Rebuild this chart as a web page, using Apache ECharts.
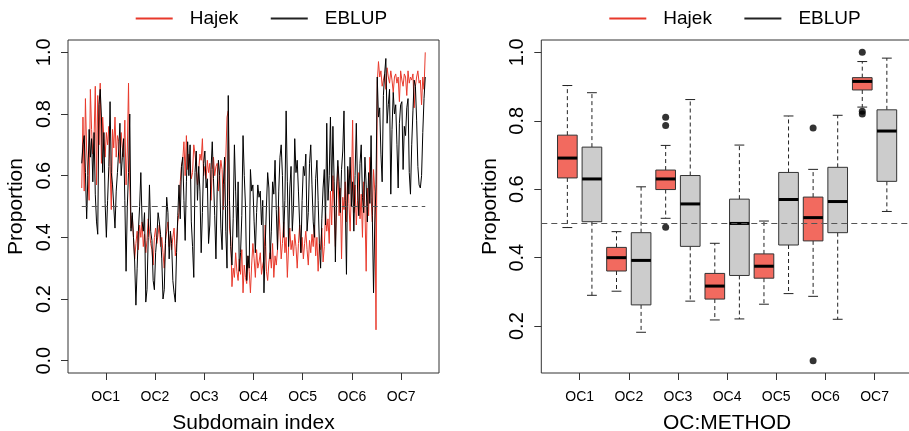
<!DOCTYPE html>
<html>
<head>
<meta charset="utf-8">
<title>Hajek vs EBLUP</title>
<script src="https://cdn.jsdelivr.net/npm/echarts@6/dist/echarts.min.js"></script>
<style>
  html, body { margin: 0; padding: 0; background: #fff; }
  #chart { width: 909px; height: 431px; }
</style>
</head>
<body>
<div id="chart"></div>
<script>
// group labels (7 occupational classes, 40 subdomains each)
const ocLabels = ['OC1', 'OC2', 'OC3', 'OC4', 'OC5', 'OC6', 'OC7'];
const perGroup = 40;

// left panel: estimate per subdomain
const hajek = [
  0.56,0.79,0.55,0.85,0.68,0.60,0.52,0.88,0.75,0.67,0.72,0.89,0.57,0.86,0.70,0.90,0.64,0.79,0.72,0.66,
  0.74,0.70,0.76,0.63,0.49,0.75,0.69,0.79,0.66,0.73,0.71,0.64,0.74,0.69,0.66,0.78,0.57,0.68,0.90,0.57,
  0.43,0.47,0.40,0.33,0.38,0.42,0.36,0.44,0.40,0.45,0.37,0.41,0.35,0.39,0.46,0.42,0.38,0.36,0.31,0.40,
  0.43,0.38,0.41,0.44,0.37,0.40,0.35,0.30,0.39,0.42,0.45,0.37,0.41,0.36,0.40,0.43,0.34,0.38,0.45,0.48,
  0.58,0.63,0.65,0.71,0.60,0.73,0.62,0.67,0.64,0.59,0.61,0.70,0.67,0.63,0.57,0.62,0.67,0.65,0.72,0.60,
  0.63,0.59,0.65,0.61,0.64,0.52,0.62,0.66,0.60,0.63,0.64,0.55,0.60,0.65,0.62,0.49,0.58,0.66,0.79,0.81,
  0.43,0.40,0.24,0.30,0.27,0.35,0.29,0.26,0.33,0.28,0.36,0.22,0.31,0.27,0.25,0.34,0.29,0.22,0.31,0.38,
  0.33,0.27,0.36,0.30,0.32,0.35,0.28,0.31,0.33,0.44,0.29,0.26,0.32,0.35,0.30,0.38,0.27,0.34,0.31,0.36,
  0.50,0.42,0.33,0.38,0.45,0.35,0.40,0.27,0.37,0.43,0.36,0.39,0.34,0.41,0.37,0.30,0.38,0.44,0.35,0.40,
  0.33,0.38,0.42,0.36,0.31,0.39,0.35,0.41,0.37,0.44,0.34,0.40,0.29,0.38,0.36,0.43,0.32,0.37,0.48,0.42,
  0.46,0.38,0.55,0.44,0.60,0.50,0.37,0.52,0.63,0.47,0.56,0.33,0.53,0.49,0.58,0.45,0.62,0.51,0.42,0.55,
  0.78,0.48,0.57,0.44,0.52,0.61,0.46,0.54,0.40,0.58,0.50,0.29,0.56,0.47,0.66,0.53,0.45,0.62,0.55,0.10,
  0.90,0.97,0.92,0.94,0.89,0.91,0.93,0.88,0.95,0.92,0.90,0.94,0.91,0.87,0.92,0.93,0.90,0.92,0.84,0.94,
  0.91,0.89,0.93,0.92,0.86,0.94,0.90,0.92,0.91,0.93,0.82,0.89,0.92,0.94,0.90,0.91,0.83,0.92,0.88,1.00
];
const eblup = [
  0.64,0.70,0.73,0.61,0.46,0.60,0.75,0.66,0.72,0.58,0.74,0.54,0.45,0.41,0.83,0.88,0.79,0.61,0.74,0.51,
  0.40,0.52,0.63,0.84,0.61,0.57,0.50,0.43,0.55,0.61,0.68,0.77,0.60,0.66,0.72,0.52,0.29,0.50,0.61,0.80,
  0.42,0.48,0.40,0.32,0.18,0.30,0.42,0.50,0.61,0.45,0.42,0.48,0.19,0.23,0.40,0.57,0.42,0.39,0.26,0.23,
  0.35,0.40,0.48,0.45,0.41,0.33,0.20,0.23,0.38,0.53,0.48,0.33,0.42,0.38,0.26,0.22,0.19,0.35,0.47,0.57,
  0.46,0.63,0.66,0.52,0.39,0.58,0.71,0.60,0.70,0.45,0.37,0.27,0.61,0.68,0.52,0.63,0.55,0.35,0.48,0.64,
  0.68,0.56,0.59,0.38,0.44,0.62,0.71,0.59,0.47,0.33,0.55,0.65,0.60,0.43,0.36,0.57,0.66,0.42,0.30,0.86,
  0.52,0.37,0.31,0.46,0.70,0.55,0.40,0.58,0.29,0.35,0.47,0.73,0.60,0.50,0.26,0.34,0.30,0.62,0.55,0.57,
  0.45,0.35,0.48,0.57,0.53,0.55,0.44,0.52,0.22,0.37,0.50,0.61,0.56,0.33,0.42,0.58,0.54,0.65,0.49,0.36,
  0.55,0.66,0.70,0.60,0.40,0.52,0.81,0.58,0.37,0.56,0.63,0.42,0.50,0.72,0.61,0.65,0.55,0.44,0.35,0.52,
  0.63,0.60,0.67,0.42,0.48,0.64,0.70,0.57,0.45,0.40,0.59,0.65,0.52,0.38,0.30,0.46,0.56,0.62,0.44,0.77,
  0.52,0.60,0.79,0.55,0.76,0.58,0.32,0.56,0.65,0.58,0.48,0.62,0.68,0.81,0.52,0.28,0.63,0.54,0.66,0.50,
  0.58,0.42,0.60,0.77,0.56,0.47,0.64,0.70,0.53,0.48,0.66,0.57,0.45,0.61,0.51,0.73,0.47,0.22,0.44,0.57,
  0.92,0.79,0.82,0.67,0.58,0.86,0.93,0.98,0.77,0.83,0.88,0.54,0.75,0.87,0.80,0.83,0.70,0.56,0.77,0.83,
  0.84,0.62,0.76,0.73,0.82,0.85,0.61,0.54,0.70,0.81,0.91,0.89,0.78,0.63,0.57,0.56,0.60,0.74,0.85,0.92
];

// right panel: [lower whisker, Q1, median, Q3, upper whisker] per OC
const hajekBox = [
  [0.488, 0.633, 0.691, 0.758, 0.903],
  [0.302, 0.361, 0.400, 0.430, 0.476],
  [0.515, 0.599, 0.630, 0.656, 0.728],
  [0.218, 0.279, 0.317, 0.354, 0.442],
  [0.264, 0.340, 0.375, 0.411, 0.507],
  [0.287, 0.449, 0.517, 0.577, 0.658],
  [0.840, 0.890, 0.915, 0.926, 0.973]
];
const eblupBox = [
  [0.290, 0.505, 0.630, 0.723, 0.882],
  [0.182, 0.262, 0.392, 0.473, 0.607],
  [0.273, 0.433, 0.557, 0.640, 0.862],
  [0.221, 0.348, 0.500, 0.571, 0.729],
  [0.295, 0.437, 0.570, 0.649, 0.814],
  [0.220, 0.473, 0.564, 0.664, 0.816],
  [0.535, 0.623, 0.770, 0.832, 0.983]
];
// outliers: [OC number, value]
const hajekOutliers = [[3, 0.810], [3, 0.786], [3, 0.489], [6, 0.779], [6, 0.099], [7, 1.000], [7, 0.828], [7, 0.820]];

const RED = '#E8392B';
const BOX_RED = '#F26A5F';
const BOX_GREY = '#CCCCCC';
const FONT = '"Liberation Sans", Arial, Helvetica, sans-serif';

const n = hajek.length;
const groupCenters = ocLabels.map((_, i) => i * perGroup + (perGroup + 1) / 2);
const xPad = (n - 1) * 0.04;

const boxCenters = ocLabels.map((_, i) => 2 * i + 1.5);

function renderBox(params, api) {
  const x = api.value(0);
  const lo = api.value(1), q1 = api.value(2), med = api.value(3), q3 = api.value(4), hi = api.value(5);
  const p = (dx, v) => api.coord([x + dx, v]);
  const seg = (a, b) => ({ x1: a[0], y1: a[1], x2: b[0], y2: b[1] });
  const dash = { stroke: '#222', lineWidth: 1, lineDash: [4, 3] };
  const solid = { stroke: '#222', lineWidth: 1 };
  const tl = p(-0.4, q3), br = p(0.4, q1);
  return {
    type: 'group',
    children: [
      { type: 'line', shape: seg(p(0, q3), p(0, hi)), style: dash },
      { type: 'line', shape: seg(p(0, q1), p(0, lo)), style: dash },
      { type: 'line', shape: seg(p(-0.2, hi), p(0.2, hi)), style: solid },
      { type: 'line', shape: seg(p(-0.2, lo), p(0.2, lo)), style: solid },
      { type: 'rect', shape: { x: tl[0], y: tl[1], width: br[0] - tl[0], height: br[1] - tl[1] },
        style: { fill: api.visual('color'), stroke: '#333', lineWidth: 1 } },
      { type: 'line', shape: seg(p(-0.4, med), p(0.4, med)), style: { stroke: '#000', lineWidth: 3 } }
    ]
  };
}

const tickStyle = { show: true, inside: false, length: 7, lineStyle: { color: '#333', width: 1 } };
const yTicks = [0, 0.2, 0.4, 0.6, 0.8, 1.0];
const yTicksRight = [0.2, 0.4, 0.6, 0.8, 1.0];

function yAxis(gridIndex, min, max, ticks) {
  return {
    type: 'value', gridIndex, min, max,
    name: 'Proportion', nameLocation: 'middle', nameGap: 41,
    nameTextStyle: { fontSize: 21, color: '#000', fontFamily: FONT },
    axisLine: { show: false, onZero: false },
    splitLine: { show: false },
    axisTick: Object.assign({ customValues: ticks }, tickStyle),
    axisLabel: { customValues: ticks, rotate: 90, fontSize: 20, color: '#000', margin: 14,
      fontFamily: FONT, formatter: v => v.toFixed(1) }
  };
}

function xAxis(gridIndex, min, max, ticks, title) {
  return {
    type: 'value', gridIndex, min, max,
    name: title, nameLocation: 'middle', nameGap: 40,
    nameTextStyle: { fontSize: 21, color: '#000', fontFamily: FONT },
    axisLine: { show: false, onZero: false },
    splitLine: { show: false },
    axisTick: Object.assign({ customValues: ticks }, tickStyle),
    axisLabel: { customValues: ticks, fontSize: 14, color: '#000', margin: 17, fontFamily: FONT,
      formatter: v => ocLabels[ticks.findIndex(t => Math.abs(t - v) < 1e-6)] }
  };
}

function legend(left) {
  return {
    left, top: 4, orient: 'horizontal', icon: 'rect', itemWidth: 37, itemHeight: 2, itemGap: 32.5,
    selectedMode: false,
    textStyle: { fontSize: 19, color: '#000', fontFamily: FONT, padding: [0, 0, 0, 12] },
    data: [
      { name: 'Hajek', itemStyle: { color: RED } },
      { name: 'EBLUP', itemStyle: { color: '#222' } }
    ]
  };
}

const refLine = {
  silent: true, symbol: 'none', label: { show: false },
  lineStyle: { color: '#555', type: [6, 4], width: 1.2 }
};

const chart = echarts.init(document.getElementById('chart'), null, { renderer: 'canvas' });
chart.setOption({
  animation: false,
  textStyle: { fontFamily: FONT },
  legend: [legend(130.7), legend(604.3)],
  grid: [
    { left: 68, top: 40, width: 371, height: 333, show: true, borderColor: '#333', borderWidth: 1,
      outerBoundsMode: 'none' },
    { left: 541.3, top: 40, width: 371.6, height: 333, show: true, borderColor: '#333', borderWidth: 1,
      outerBoundsMode: 'none' }
  ],
  xAxis: [
    xAxis(0, 1 - xPad, n + xPad, groupCenters, 'Subdomain index'),
    xAxis(1, 0.5 - 0.56, 14.5 + 0.56, boxCenters, 'OC:METHOD')
  ],
  yAxis: [
    yAxis(0, -0.04, 1.04, yTicks),
    yAxis(1, 0.099 - 0.036, 1.0 + 0.036, yTicksRight)
  ],
  series: [
    {
      name: 'Hajek', type: 'line', xAxisIndex: 0, yAxisIndex: 0, showSymbol: false,
      lineStyle: { color: RED, width: 1 }, itemStyle: { color: RED },
      data: hajek.map((v, i) => [i + 1, v]),
      markLine: Object.assign({ data: [[{ coord: [1, 0.5] }, { coord: [n, 0.5] }]] }, refLine)
    },
    {
      name: 'EBLUP', type: 'line', xAxisIndex: 0, yAxisIndex: 0, showSymbol: false,
      lineStyle: { color: '#000', width: 1 }, itemStyle: { color: '#000' },
      data: eblup.map((v, i) => [i + 1, v])
    },
    {
      name: 'Hajek', type: 'custom', xAxisIndex: 1, yAxisIndex: 1,
      itemStyle: { color: BOX_RED }, renderItem: renderBox,
      encode: { x: 0, y: [1, 2, 3, 4, 5] },
      data: hajekBox.map((s, i) => [2 * i + 1].concat(s))
    },
    {
      name: 'EBLUP', type: 'custom', xAxisIndex: 1, yAxisIndex: 1,
      itemStyle: { color: BOX_GREY }, renderItem: renderBox,
      encode: { x: 0, y: [1, 2, 3, 4, 5] },
      data: eblupBox.map((s, i) => [2 * i + 2].concat(s)),
      markLine: Object.assign({ data: [{ yAxis: 0.5 }] }, refLine)
    },
    {
      name: 'outliers', type: 'scatter', xAxisIndex: 1, yAxisIndex: 1,
      symbol: 'circle', symbolSize: 7, itemStyle: { color: '#000' },
      data: hajekOutliers.map(o => [2 * o[0] - 1, o[1]])
    }
  ]
});
</script>
</body>
</html>
